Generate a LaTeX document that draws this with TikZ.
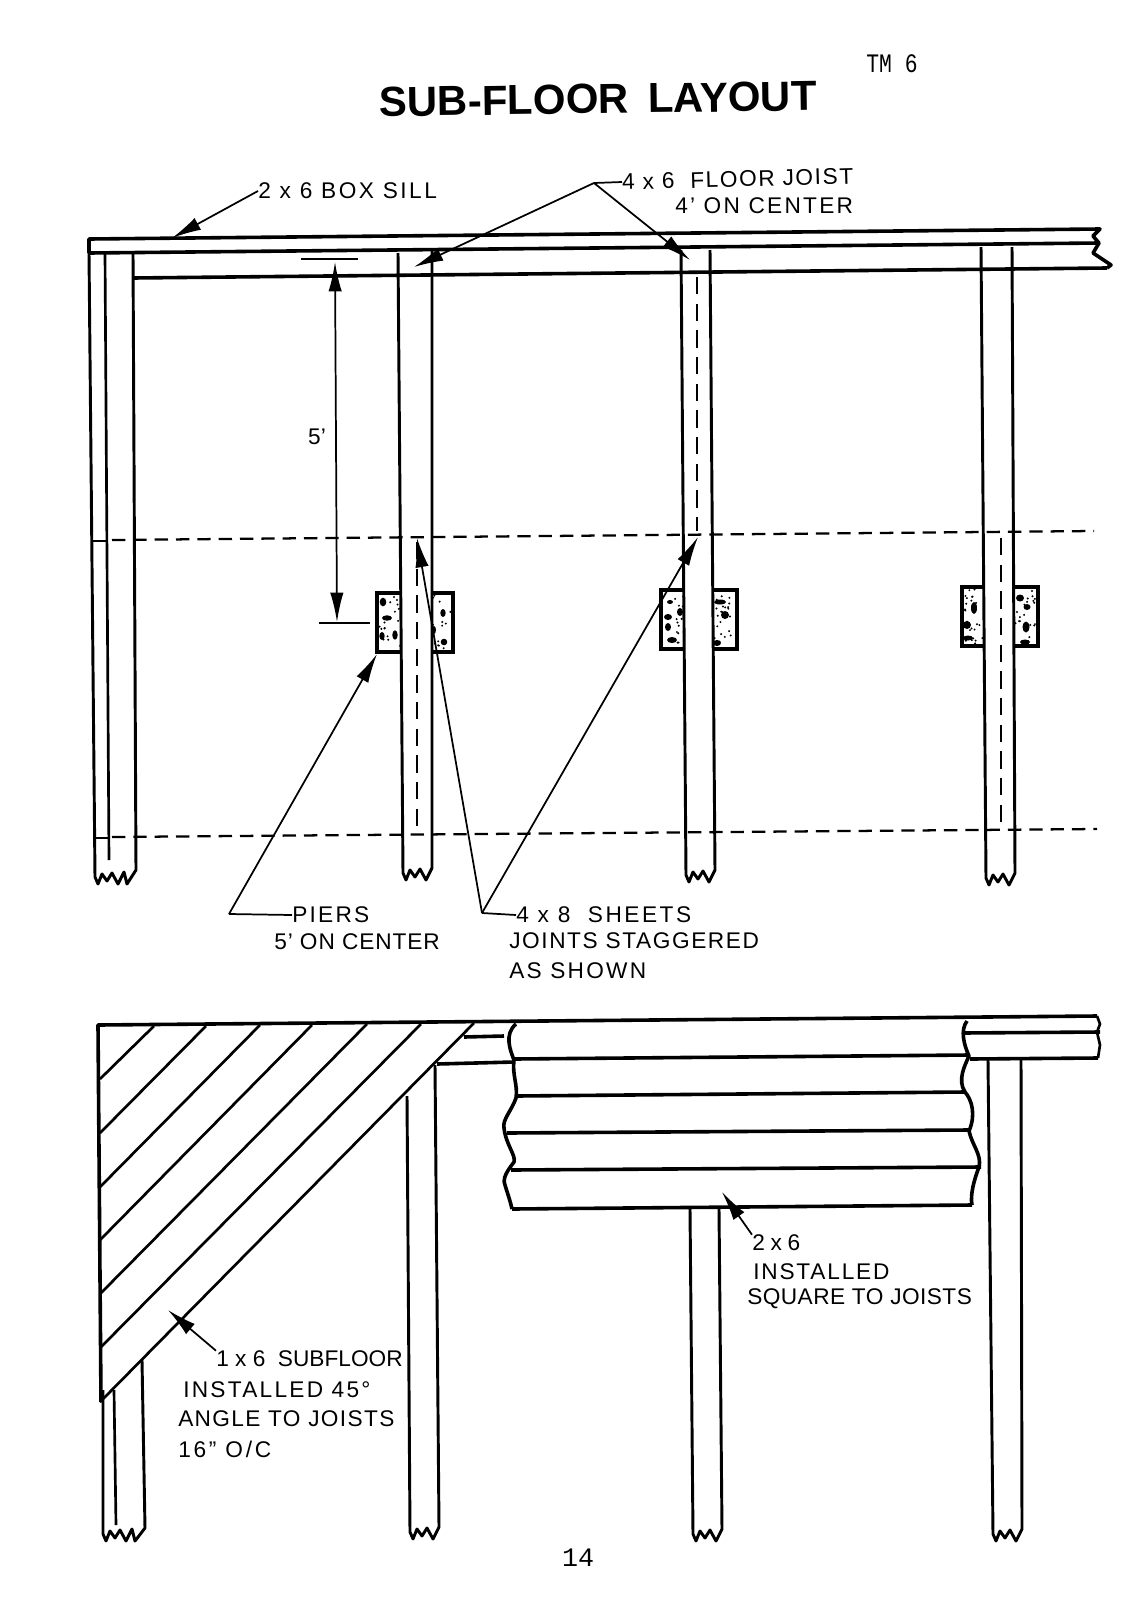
\documentclass[tikz,border=0pt]{standalone}
\usepackage{fontspec}
\usepackage{tikz}
\usetikzlibrary{arrows.meta}
\setmainfont{Liberation Sans}
\newfontfamily\typed{Liberation Mono}
\newcommand{\jag}{-- ++(3,7) -- ++(4,-10) -- ++(5,7) -- ++(5,-8) -- ++(6,11) -- ++(6,-12)}
\tikzset{
	wood/.style={line width=2.2pt, fill=white, line join=round},
	thick rim/.style={line width=2.7pt, line join=round},
	board/.style={line width=2pt, line join=round},
	chalk/.style={line width=1.7pt, dash pattern=on 10pt off 6pt},
	hidden/.style={line width=1.4pt, dash pattern=on 13pt off 7pt},
	leader/.style={line width=1.3pt},
	pointer/.style={line width=1.3pt, -{Latex[length=22pt,width=10pt]}},
	dimline/.style={line width=1.3pt, {Latex[length=22pt,width=10pt]}-{Latex[length=22pt,width=10pt]}},
	hand/.style={font=\fontsize{17}{17}\selectfont\addfontfeatures{LetterSpace=#1}, inner sep=0pt, anchor=west},
	hand/.default=0,
	pierbox/.style={line width=2.5pt, fill=white},
}
\begin{document}
\begin{tikzpicture}[x=0.75pt,y=0.75pt,yscale=-1,xscale=1]
	\useasboundingbox (0,0) rectangle (1143,1624);
	\fill[white] (0,0) rectangle (1143,1624);
	
	% Text Node
	\node (title) at (598,99) [rotate=0.8, font=\bfseries\fontsize{31.5}{32}\selectfont] {SUB-FLOOR\hspace{0.45em}LAYOUT};
	\node (sheetno) at (892,64) [font=\typed\fontsize{20}{20}\selectfont] {\scalebox{0.8}[1]{TM 6}};
	\node (pageno) at (578,1558) [font=\typed\fontsize{20}{20}\selectfont] {14};
	
	%Shape: Piers
	\pgfmathsetseed{14}
	\foreach \px/\py [count=\n] in {377/593, 661/590, 962/587}{
		\draw[pierbox] (\px,\py) coordinate (pier\n) rectangle ++(76,59);
		\foreach \i in {1,...,60}
			\fill ({\px+2+rnd*72},{\py+2+rnd*55}) circle (1.1);
	}
	\foreach \a/\b/\rx/\ry in {6/9/3.3/4.3, 10/25/5/2.7, 5/43/2.7/4, 18/42/2.7/4.7, 66/20/2.7/4, 67/49/3.3/3.3, 57/37/2/4}
		\fill ({377+\a},{593+\b}) ellipse [x radius=\rx, y radius=\ry];
	\foreach \a/\b/\rx/\ry in {7/27/4/3, 7/37/3/4, 11/50/5/3, 19/22/3/4, 59/12/6/2.5, 64/25/4/4, 56/53/4/3, 9/12/3/2}
		\fill ({661+\a},{590+\b}) ellipse [x radius=\rx, y radius=\ry];
	\foreach \a/\b/\rx/\ry in {12/21/3/6, 5/38/4/4, 6/51/5/2.5, 58/11/4/3.5, 65/20/3.5/3, 64/40/3.5/5.5, 63/55/5/2.5}
		\fill ({962+\a},{587+\b}) ellipse [x radius=\rx, y radius=\ry];
	
	%Shape: Upper joists
	\draw[wood] (89,253) -- (95,877) \jag -- ++(3,12) -- (136,870) -- (133,253);
	\draw[board] (105,253) -- (109,860);
	\draw[wood] (398,253) -- (403,873) \jag -- (432,250);
	\draw[wood] (681,250) -- (686,875) \jag -- (710,250);
	\draw[wood] (981,247) -- (986,878) \jag -- (1012,247);
	
	%Shape: Box sill and rim
	\draw[thick rim] (89,253) -- (89,239) -- (1100,229) -- (1093,236) -- (1099,243) -- (1093,253) -- (1111,265) -- (1107,268);
	\draw[thick rim] (89,253) -- (1099,243);
	\draw[thick rim] (133,278) -- (1107,268);
	
	% Lines
	\draw[chalk] (112,540) -- (1094,531);
	\draw[chalk] (112,837) -- (1097,829);
	\draw[board] (93,541) -- (108,541);
	\draw[board] (95,838) -- (110,838);
	\draw[hidden] (417,542) -- (417,830);
	\draw[hidden] (697,277) -- (697,531);
	\draw[hidden] (1001,538) -- (1001,826);
	
	% Dimension
	\coordinate (dimtop) at (335,262);
	\coordinate (dimbot) at (337,622);
	\draw[leader] (301,259) -- (358,259);
	\draw[leader] (319,623) -- (370,623);
	\draw[dimline] (dimtop) -- (dimbot);
	\node (five) at (317,437) [hand, anchor=center] {5'};
	
	% Text Node
	\node (boxsill) at (258,191) [hand=11] {2 x 6 BOX SILL};
	\node (joistone) at (622,182) [hand=7, rotate=1.5] {4 x 6 \ FLOOR JOIST};
	\node (joisttwo) at (675,206) [hand=10] {4' ON CENTER};
	\node (piersone) at (292,915) [hand=10] {PIERS};
	\node (pierstwo) at (274,942) [hand=4] {5' ON CENTER};
	\node (sheetsone) at (516,915) [hand=11] {4 x 8 \ SHEETS};
	\node (sheetstwo) at (509,941) [hand=7] {JOINTS STAGGERED};
	\node (sheetsthree) at (509,971) [hand=10] {AS SHOWN};
	
	% Connection
	\coordinate (silltip) at (172,238);
	\draw[pointer] (boxsill.west) -- (silltip);
	\coordinate (joistfork) at (594,183);
	\coordinate (joisttipa) at (414,267);
	\coordinate (joisttipb) at (690,260);
	\draw[leader] (joistone.west) -- (joistfork);
	\draw[pointer] (joistfork) -- (joisttipa);
	\draw[pointer] (joistfork) -- (joisttipb);
	\coordinate (pierfork) at (229,914);
	\coordinate (piertip) at (377,654);
	\draw[leader] (piersone.west) -- (pierfork);
	\draw[pointer] (pierfork) -- (piertip);
	\coordinate (sheetfork) at (482,913);
	\coordinate (sheettipa) at (417,538);
	\coordinate (sheettipb) at (698,537);
	\draw[leader] (sheetsone.west) -- (sheetfork);
	\draw[pointer] (sheetfork) -- (sheettipa);
	\draw[pointer] (sheetfork) -- (sheettipb);
	
	%Shape: Lower joists
	\draw[wood] (103,1390) -- (103,1534) \jag -- ++(3,12) -- (145,1528) -- (142,1360);
	\draw[board] (114,1390) -- (116,1525);
	\draw[wood] (407,1096) -- (410,1532) \jag -- (435,1065);
	\draw[wood] (690,1209) -- (693,1534) \jag -- (719,1209);
	\draw[wood] (988,1060) -- (993,1534) \jag -- (1021,1060);
	
	%Shape: Diagonal subfloor
	\draw[thick rim] (101,1402) -- (98,1025) -- (1097,1016);
	\foreach \ya/\xb/\yb in {1079/154/1026, 1133/206/1026, 1187/260/1025, 1240/312/1025, 1294/367/1024, 1348/421/1024, 1402/474/1023}
		\draw[board] (100,\ya) -- (\xb,\yb);
	
	%Shape: Sill behind
	\draw[thick rim] (464,1037) -- (504,1036);
	\draw[thick rim] (437,1064) -- (514,1062);
	\draw[thick rim] (962,1033) -- (1100,1032);
	\draw[thick rim] (970,1059) -- (1098,1058);
	\draw[board] (1097,1016) -- (1100,1024) -- (1097,1032) -- (1100,1045) -- (1098,1058);
	
	%Shape: Squared boards
	\draw[thick rim] (516,1024) .. controls (504,1034) and (510,1050) .. (514,1060) .. controls (512,1075) and (518,1085) .. (516,1098) .. controls (512,1110) and (502,1120) .. (504,1128) .. controls (506,1145) and (516,1155) .. (514,1162) .. controls (508,1170) and (502,1178) .. (505,1185) .. controls (508,1195) and (510,1200) .. (512,1209);
	\draw[thick rim] (967,1021) .. controls (960,1030) and (964,1045) .. (969,1056) .. controls (965,1065) and (957,1080) .. (965,1092) .. controls (972,1100) and (976,1115) .. (969,1131) .. controls (972,1145) and (982,1155) .. (979,1167) .. controls (974,1180) and (970,1195) .. (972,1205);
	\foreach \xa/\ya/\xb/\yb in {514/1059/969/1055, 516/1096/965/1092, 507/1133/969/1130, 511/1170/981/1167, 512/1209/972/1205}
		\draw[thick rim] (\xa,\ya) -- (\xb,\yb);
	
	% Text Node
	\node (squareone) at (752,1243) [hand=25] {2x6};
	\node (squaretwo) at (753,1272) [hand=8] {INSTALLED};
	\node (squarethree) at (747,1299) [hand=2] {SQUARE TO JOISTS};
	\node (subone) at (216,1359) [hand] {1 x 6 \ SUBFLOOR};
	\node (subtwo) at (183,1390) [hand=10] {INSTALLED 45°};
	\node (subthree) at (178,1419) [hand=6] {ANGLE TO JOISTS};
	\node (subfour) at (178,1449) [hand=12] {16" O/C};
	
	% Connection
	\coordinate (squaretip) at (722,1192);
	\draw[pointer] (squareone.north west) -- (squaretip);
	\coordinate (subtip) at (168,1310);
	\draw[pointer] (subone.north west) -- (subtip);
\end{tikzpicture}
\end{document}
